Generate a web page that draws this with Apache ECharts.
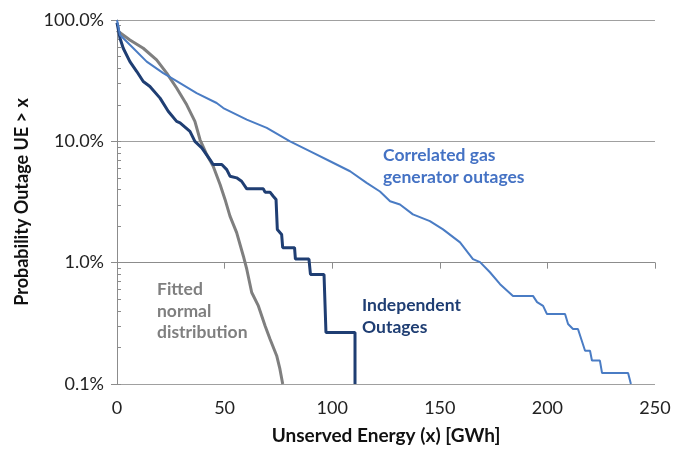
<!DOCTYPE html>
<html>
<head>
<meta charset="utf-8">
<script src="https://cdn.jsdelivr.net/npm/echarts@6/dist/echarts.min.js"></script>
<style>
  html, body { margin: 0; padding: 0; background: #fff; }
  #chart { width: 685px; height: 450px; }
</style>
</head>
<body>
<div id="chart"></div>
<script>
// Exceedance curves: probability (%) that unserved energy exceeds x (GWh)
const correlatedX = [0, 1.4, 7.6, 13.8, 21.5, 29.3, 37.0, 46.3, 49.4, 60.3, 69.6, 80.4, 91.2, 99.0, 108.3, 116.0, 122.2, 126.9, 131.5, 137.5, 145.4, 151.5, 159.4, 165.4, 168.7, 173.3, 178.0, 184.0, 193.3, 195.2, 198.0, 199.8, 208.2, 209.6, 211.9, 214.2, 217.5, 219.8, 220.7, 224.4, 225.4, 237.5, 238.8];
const correlatedP = [100, 75.3, 58.5, 45.4, 36.5, 30.2, 25.0, 20.7, 18.8, 15.1, 12.9, 10.0, 8.03, 6.85, 5.67, 4.55, 3.86, 3.21, 3.02, 2.50, 2.20, 1.88, 1.47, 1.07, 1.01, 0.834, 0.665, 0.532, 0.532, 0.473, 0.441, 0.377, 0.377, 0.312, 0.284, 0.284, 0.188, 0.188, 0.156, 0.156, 0.123, 0.123, 0.1];

const independentX = [0, 1.4, 2.9, 6.0, 9.2, 12.2, 15.3, 20.0, 23.8, 27.7, 29.3, 33.9, 36.2, 39.4, 43.2, 44.7, 48.7, 51.0, 52.5, 55.6, 57.9, 60.3, 68.0, 68.8, 71.1, 72.6, 73.9, 74.5, 76.5, 77.0, 82.5, 82.9, 89.2, 89.9, 96.2, 97.1, 110.6, 110.6];
const independentP = [95, 70.7, 58.5, 45.4, 37.6, 31.1, 28.3, 22.7, 17.7, 14.6, 14.2, 12.1, 10.0, 8.83, 7.08, 6.44, 6.44, 5.85, 5.16, 5.0, 4.69, 4.06, 4.06, 3.81, 3.81, 3.53, 3.32, 1.88, 1.71, 1.33, 1.33, 1.07, 1.07, 0.80, 0.80, 0.266, 0.266, 0.1];

const normalX = [0, 6.0, 12.2, 18.4, 23.1, 27.7, 32.4, 36.2, 38.6, 41.7, 44.7, 47.9, 50.2, 52.5, 55.6, 58.7, 60.3, 62.6, 65.7, 68.8, 71.1, 74.2, 75.7, 77.0];
const normalP = [82, 68.5, 58.5, 46.9, 36.5, 27.5, 20.0, 14.6, 10.3, 7.78, 6.23, 4.41, 3.32, 2.42, 1.77, 1.135, 0.883, 0.568, 0.44, 0.302, 0.235, 0.171, 0.133, 0.1];

const xTicks = [0, 50, 100, 150, 200, 250];
const yTicks = [0.1, 1, 10, 100];

const pairs = (xs, ys) => xs.map((x, i) => [x, ys[i]]);

// minor tick positions (1..9 within each decade), expressed in log10 units
const minorTicks = [];
for (let d = -1; d < 2; d++) {
  for (let k = 1; k <= 9; k++) minorTicks.push(d + Math.log10(k));
}
minorTicks.push(2);

const FONT = 'Lato, "Open Sans", sans-serif';

const chart = echarts.init(document.getElementById('chart'), null, { renderer: 'canvas' });
chart.setOption({
  animation: false,
  backgroundColor: '#ffffff',
  grid: { left: 117, right: 30, top: 20, bottom: 65, containLabel: false },
  xAxis: {
    type: 'value',
    min: xTicks[0],
    max: xTicks[xTicks.length - 1],
    interval: 50,
    name: 'Unserved Energy (x) [GWh]',
    nameLocation: 'middle',
    nameGap: 42,
    nameTextStyle: { fontFamily: FONT, fontWeight: 'bold', fontSize: 19, color: '#111' },
    axisLine: { show: true, lineStyle: { color: '#8c8c8c', width: 1 } },
    axisTick: { show: true, inside: false, length: 6, lineStyle: { color: '#8c8c8c' } },
    axisLabel: { fontFamily: FONT, fontSize: 18, color: '#222', margin: 15 },
    splitLine: { show: false }
  },
  yAxis: [
    {
      type: 'log',
      logBase: 10,
      min: yTicks[0],
      max: yTicks[yTicks.length - 1],
      name: 'Probability Outage UE > x',
      nameLocation: 'middle',
      nameGap: 86,
      nameTextStyle: { fontFamily: FONT, fontWeight: 'bold', fontSize: 18, color: '#111' },
      axisLine: { show: true, lineStyle: { color: '#8c8c8c', width: 1 } },
      axisTick: { show: true, inside: false, length: 6, lineStyle: { color: '#8c8c8c' } },
      axisLabel: {
        fontFamily: FONT, fontSize: 18, color: '#222', margin: 13,
        formatter: v => v.toFixed(1) + '%'
      },
      splitLine: { show: true, lineStyle: { color: '#a0a0a0', width: 1 } }
    },
    {
      // decoration axis carrying the inner minor ticks of the log scale
      type: 'value',
      position: 'left',
      min: -1,
      max: 2,
      axisLine: { show: false },
      axisLabel: { show: false },
      splitLine: { show: false },
      axisTick: {
        show: true, inside: true, length: 4,
        customValues: minorTicks,
        lineStyle: { color: '#8c8c8c' }
      }
    }
  ],
  series: [
    {
      name: 'Fitted normal distribution',
      type: 'line',
      data: pairs(normalX, normalP),
      showSymbol: false,
      lineStyle: { color: '#7f7f7f', width: 3 },
      z: 2
    },
    {
      name: 'Independent Outages',
      type: 'line',
      data: pairs(independentX, independentP),
      showSymbol: false,
      lineStyle: { color: '#1f3e73', width: 3 },
      z: 3
    },
    {
      name: 'Correlated gas generator outages',
      type: 'line',
      data: pairs(correlatedX, correlatedP),
      showSymbol: false,
      lineStyle: { color: '#4a7cc4', width: 2 },
      z: 4
    }
  ],
  graphic: [
    {
      type: 'text', left: 383, top: 144,
      style: {
        text: 'Correlated gas\ngenerator outages',
        font: 'bold 17.5px ' + FONT, fill: '#4472c4', lineHeight: 22
      }
    },
    {
      type: 'text', left: 362, top: 294,
      style: {
        text: 'Independent\nOutages',
        font: 'bold 17.5px ' + FONT, fill: '#1f3e73', lineHeight: 22
      }
    },
    {
      type: 'text', left: 157, top: 279,
      style: {
        text: 'Fitted\nnormal\ndistribution',
        font: 'bold 17.5px ' + FONT, fill: '#7f7f7f', lineHeight: 21.5
      }
    }
  ]
});
</script>
</body>
</html>
